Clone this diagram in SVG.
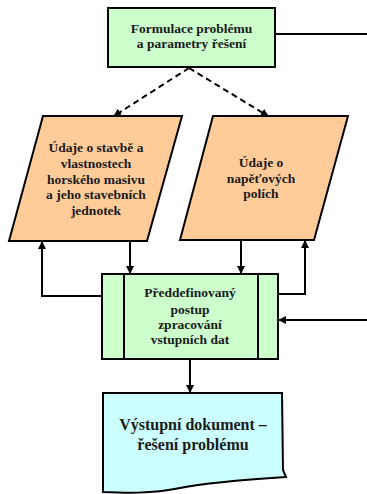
<svg xmlns="http://www.w3.org/2000/svg" width="367" height="494" viewBox="0 0 367 494">
<style>
.n{stroke:#000;stroke-width:2;}
.t{font-family:"Liberation Serif","Times New Roman",serif;font-weight:bold;font-size:13.5px;fill:#1a1a1a;text-anchor:middle;}
.c{fill:none;stroke:#000;stroke-width:2;}
.d{stroke-dasharray:6,4;}
</style>
<defs>
<marker id="ah" markerWidth="8" markerHeight="8" refX="7" refY="4" orient="auto" markerUnits="userSpaceOnUse">
<path d="M0,0 L8,4 L0,8 Z" fill="#000"/>
</marker>
</defs>
<rect width="367" height="494" fill="#fff"/>
<g id="connectors">
<path class="c" d="M275,34 H367"/>
<path class="c d" d="M189,68 L114,116" marker-end="url(#ah)"/>
<path class="c d" d="M189,68 L268,116" marker-end="url(#ah)"/>
<path class="c" d="M130,241 V273" marker-end="url(#ah)"/>
<path class="c" d="M241,240 V273" marker-end="url(#ah)"/>
<path class="c" d="M101,296 H42 V242" marker-end="url(#ah)"/>
<path class="c" d="M278,294 H305 V241" marker-end="url(#ah)"/>
<path class="c" d="M367,320 H279" marker-end="url(#ah)"/>
<path class="c" d="M190,359 V392" marker-end="url(#ah)"/>
</g>
<g id="formulace">
<rect class="n" x="108" y="8" width="167" height="59" fill="#ccffcc"/>
<text class="t" x="191.5" y="33">Formulace problému</text>
<text class="t" x="191.5" y="48">a parametry řešení</text>
</g>
<g id="udaje-stavba">
<polygon class="n" points="43,116 182,116 147,241 9,241" fill="#ffcc99"/>
<text class="t" x="96" y="152">Údaje o stavbě a</text>
<text class="t" x="96" y="168">vlastnostech</text>
<text class="t" x="96" y="184">horského masivu</text>
<text class="t" x="96" y="199">a jeho stavebních</text>
<text class="t" x="96" y="215">jednotek</text>
</g>
<g id="udaje-napeti">
<polygon class="n" points="213,116 348,116 314,240 180,240" fill="#ffcc99"/>
<text class="t" x="261" y="167">Údaje o</text>
<text class="t" x="261" y="183">napěťových</text>
<text class="t" x="261" y="198">polích</text>
</g>
<g id="postup">
<rect class="n" x="102" y="274" width="176" height="85" fill="#ccffcc"/>
<path class="c" d="M124,274 V359 M258,274 V359"/>
<text class="t" x="190" y="297">Předdefinovaný</text>
<text class="t" x="190" y="314">postup</text>
<text class="t" x="190" y="329">zpracování</text>
<text class="t" x="190" y="344">vstupních dat</text>
</g>
<g id="vystup">
<path class="n" d="M103,393 H282 L283,470 L286,477 C240,480 200,484 180,488 C150,494 125,493 103,492 Z" fill="#ccffff"/>
<text class="t" x="193" y="430" style="font-size:16px">Výstupní dokument –</text>
<text class="t" x="193" y="450" style="font-size:16px">řešení problému</text>
</g>
</svg>
